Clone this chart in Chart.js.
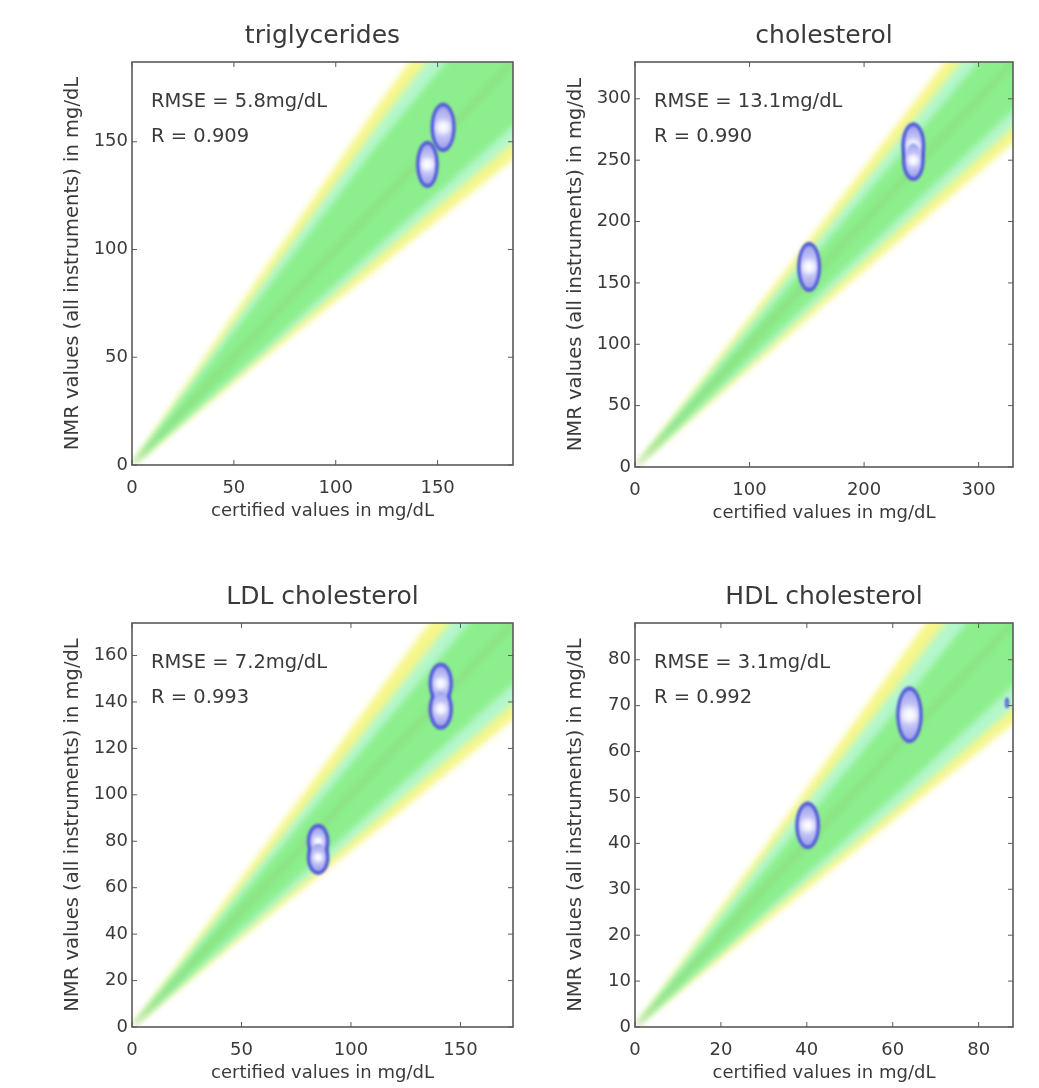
<!DOCTYPE html>
<html>
<head>
<meta charset="utf-8">
<script src="https://cdn.jsdelivr.net/npm/chart.js@4.4.1/dist/chart.umd.min.js"></script>
<style>
  body { margin: 0; background: #fff; }
  #wrap { position: relative; width: 1039px; height: 1088px; overflow: hidden; }
  canvas { position: absolute; }
</style>
</head>
<body>
<div id="wrap">
  <canvas id="c1"></canvas>
  <canvas id="c2"></canvas>
  <canvas id="c3"></canvas>
  <canvas id="c4"></canvas>
</div>
<script>
// ===== DATA =====
const xTitle = "certified values in mg/dL";
const yTitle = "NMR values (all instruments) in mg/dL";

// triglycerides
const tgMax = 187;
const tgTicks = [0, 50, 100, 150];
const tgBandX = [0, 60, 120, 190];
const tgYellowUp = [0, 84, 166, 257];
const tgMintUp = [0, 79, 157, 243];
const tgGreenUp = [0, 74, 148, 228];
const tgGreenLo = [0, 50, 101, 160];
const tgMintLo = [0, 48, 96, 152];
const tgYellowLo = [0, 46, 91, 144];
// [certified, nmr, spread x, spread y]
const tgPoints = [[145, 139.5, 5.6, 11], [152.7, 156.7, 6.2, 11.5]];
const tgRmse = "5.8", tgR = "0.909";

// cholesterol
const chMax = 330;
const chTicks = [0, 50, 100, 150, 200, 250, 300];
const chXTicks = [0, 100, 200, 300];
const chBandX = [0, 110, 220, 335];
const chYellowUp = [0, 134, 268, 409];
const chMintUp = [0, 128, 255, 389];
const chGreenUp = [0, 121, 242, 369];
const chGreenLo = [0, 97, 194, 295];
const chMintLo = [0, 92, 185, 281];
const chYellowLo = [0, 88, 176, 268];
const chPoints = [[152, 163, 10.5, 20.5], [243, 262, 10.5, 19], [243, 250, 10, 17]];
const chRmse = "13.1", chR = "0.990";

// LDL cholesterol
const ldlMax = 174;
const ldlYTicks = [0, 20, 40, 60, 80, 100, 120, 140, 160];
const ldlXTicks = [0, 50, 100, 150];
const ldlBandX = [0, 60, 120, 180];
const ldlYellowUp = [0, 77, 154, 230];
const ldlMintUp = [0, 72, 144, 216];
const ldlGreenUp = [0, 68, 136, 203];
const ldlGreenLo = [0, 51, 102, 153];
const ldlMintLo = [0, 48, 96, 144];
const ldlYellowLo = [0, 46, 91, 137];
const ldlPoints = [[85, 80, 5.2, 7.5], [85, 73, 5.2, 7.5], [141, 148, 5.6, 9], [141, 137, 5.6, 9]];
const ldlRmse = "7.2", ldlR = "0.993";

// HDL cholesterol
const hdlMax = 88;
const hdlYTicks = [0, 10, 20, 30, 40, 50, 60, 70, 80];
const hdlXTicks = [0, 20, 40, 60, 80];
const hdlBandX = [0, 30, 60, 90];
const hdlYellowUp = [0, 39, 78, 117];
const hdlMintUp = [0, 37, 73, 110];
const hdlGreenUp = [0, 34, 68, 103];
const hdlGreenLo = [0, 25, 50, 76];
const hdlMintLo = [0, 24, 47, 71];
const hdlYellowLo = [0, 22.5, 45, 67.5];
const hdlPoints = [[40.2, 43.9, 2.9, 5.2], [63.9, 68, 3.1, 6.2], [86.6, 70.6, 0.5, 1.2]];
const hdlRmse = "3.1", hdlR = "0.992";

// ===== STYLE =====
const FONT = "'DejaVu Sans', Verdana, sans-serif";
const TEXT = "#3a3a3a";
const YELLOW = "#f6f68a";
const MINT = "#b4f7cc";
const GREEN = "#8cee8c";

const panels = [
  { id: "c1", title: "triglycerides", max: tgMax, xTicks: tgTicks, yTicks: tgTicks, bandX: tgBandX,
    bands: [tgYellowUp, tgYellowLo, tgMintUp, tgMintLo, tgGreenUp, tgGreenLo], points: tgPoints, rmse: tgRmse, r: tgR,
    area: { left: 132, top: 62, right: 513, bottom: 465 } },
  { id: "c2", title: "cholesterol", max: chMax, xTicks: chXTicks, yTicks: chTicks, bandX: chBandX,
    bands: [chYellowUp, chYellowLo, chMintUp, chMintLo, chGreenUp, chGreenLo], points: chPoints, rmse: chRmse, r: chR,
    area: { left: 635, top: 62, right: 1013, bottom: 467 } },
  { id: "c3", title: "LDL cholesterol", max: ldlMax, xTicks: ldlXTicks, yTicks: ldlYTicks, bandX: ldlBandX,
    bands: [ldlYellowUp, ldlYellowLo, ldlMintUp, ldlMintLo, ldlGreenUp, ldlGreenLo], points: ldlPoints, rmse: ldlRmse, r: ldlR,
    area: { left: 132, top: 623, right: 513, bottom: 1027 } },
  { id: "c4", title: "HDL cholesterol", max: hdlMax, xTicks: hdlXTicks, yTicks: hdlYTicks, bandX: hdlBandX,
    bands: [hdlYellowUp, hdlYellowLo, hdlMintUp, hdlMintLo, hdlGreenUp, hdlGreenLo], points: hdlPoints, rmse: hdlRmse, r: hdlR,
    area: { left: 635, top: 623, right: 1013, bottom: 1027 } }
];

const AXIS_W = 102, TITLE_H = 52, XAXIS_H = 65, PAD_R = 17;

// ===== PLUGINS =====
// soft edges for the density bands
const softBands = {
  id: "softBands",
  beforeDatasetsDraw(chart) { chart.ctx.save(); chart.ctx.filter = "blur(3px)"; },
  afterDatasetsDraw(chart) { chart.ctx.restore(); }
};

// measurement clusters, drawn through the scales
const clusters = {
  id: "clusters",
  afterDatasetsDraw(chart, args, opts) {
    const { ctx, scales: { x, y }, chartArea: a } = chart;
    const shapes = opts.points.map(p => {
      const cx = x.getPixelForValue(p[0]), cy = y.getPixelForValue(p[1]);
      return { cx, cy, rx: Math.abs(x.getPixelForValue(p[0] + p[2]) - cx), ry: Math.abs(y.getPixelForValue(p[1] + p[3]) - cy) };
    });
    ctx.save();
    ctx.beginPath();
    ctx.rect(a.left, a.top, a.right - a.left, a.bottom - a.top);
    ctx.clip();
    ctx.filter = "blur(0.9px)";
    shapes.forEach(s => {
      ctx.beginPath();
      ctx.ellipse(s.cx, s.cy, s.rx, s.ry, 0, 0, Math.PI * 2);
      ctx.fillStyle = "#5860da";
      ctx.fill();
    });
    shapes.forEach(s => {
      const g = ctx.createRadialGradient(s.cx, s.cy, 0, s.cx, s.cy, Math.max(s.ry - 3.5, 1));
      g.addColorStop(0, "#ffffff");
      g.addColorStop(0.2, "#f2f2ff");
      g.addColorStop(0.45, "#c2c2f6");
      g.addColorStop(1, "#9a9eea");
      ctx.beginPath();
      ctx.ellipse(s.cx, s.cy, Math.max(s.rx - 3.5, 0.5), Math.max(s.ry - 4, 0.5), 0, 0, Math.PI * 2);
      ctx.fillStyle = g;
      ctx.fill();
    });
    ctx.restore();
  }
};

// axes box, inward ticks, statistics text
const frame = {
  id: "frame",
  afterDraw(chart, args, opts) {
    const { ctx, chartArea: a, scales: { x, y } } = chart;
    ctx.save();
    ctx.strokeStyle = "#5a5a5a";
    ctx.lineWidth = 1.6;
    ctx.strokeRect(a.left, a.top, a.right - a.left, a.bottom - a.top);
    ctx.lineWidth = 1;
    ctx.beginPath();
    x.ticks.forEach(t => {
      const px = x.getPixelForValue(t.value);
      ctx.moveTo(px, a.bottom); ctx.lineTo(px, a.bottom - 5);
      ctx.moveTo(px, a.top); ctx.lineTo(px, a.top + 5);
    });
    y.ticks.forEach(t => {
      const py = y.getPixelForValue(t.value);
      ctx.moveTo(a.left, py); ctx.lineTo(a.left + 5, py);
      ctx.moveTo(a.right, py); ctx.lineTo(a.right - 5, py);
    });
    ctx.stroke();

    ctx.fillStyle = TEXT;
    ctx.font = "19.5px " + FONT;
    ctx.textBaseline = "middle";
    ctx.textAlign = "left";
    ctx.fillText("RMSE = " + opts.rmse + "mg/dL", a.left + 19, a.top + 40);
    ctx.fillText("R = " + opts.r, a.left + 19, a.top + 75);
    ctx.restore();
  }
};

// ===== BUILD =====
function line(xs, ys) {
  return xs.map((v, i) => ({ x: v, y: ys[i] }));
}

function bandPair(xs, up, lo, color, order) {
  return [
    { data: line(xs, up), fill: "+1", backgroundColor: color, borderWidth: 0, pointRadius: 0, order },
    { data: line(xs, lo), fill: false, borderWidth: 0, pointRadius: 0, order }
  ];
}

panels.forEach(p => {
  const cv = document.getElementById(p.id);
  const w = p.area.right - p.area.left + AXIS_W + PAD_R;
  const h = p.area.bottom - p.area.top + TITLE_H + XAXIS_H;
  cv.width = w; cv.height = h;
  cv.style.left = (p.area.left - AXIS_W) + "px";
  cv.style.top = (p.area.top - TITLE_H) + "px";

  const [yu, yl, mu, ml, gu, gl] = p.bands;
  const datasets = [
    ...bandPair(p.bandX, yu, yl, YELLOW, 4),
    ...bandPair(p.bandX, mu, ml, MINT, 3),
    ...bandPair(p.bandX, gu, gl, GREEN, 2),
    { data: line([0, p.max], [0, p.max]), borderColor: "rgba(150,130,70,0.5)", borderWidth: 1.2, pointRadius: 0, fill: false, order: 1 }
  ];

  new Chart(cv, {
    type: "line",
    data: { datasets },
    options: {
      responsive: false,
      animation: false,
      devicePixelRatio: 1,
      layout: { padding: { right: PAD_R } },
      elements: { line: { tension: 0 } },
      scales: {
        x: {
          type: "linear", min: 0, max: p.max,
          afterBuildTicks: s => { s.ticks = p.xTicks.map(v => ({ value: v })); },
          afterFit: s => { s.height = XAXIS_H; },
          grid: { display: false, drawTicks: false },
          border: { display: false },
          ticks: { font: { family: FONT, size: 18 }, color: TEXT, padding: 13, maxRotation: 0 },
          title: { display: true, text: xTitle, font: { family: FONT, size: 18 }, color: TEXT, padding: { top: 0, bottom: 8 } }
        },
        y: {
          type: "linear", min: 0, max: p.max,
          afterBuildTicks: s => { s.ticks = p.yTicks.map(v => ({ value: v })); },
          afterFit: s => { s.width = AXIS_W; },
          grid: { display: false, drawTicks: false },
          border: { display: false },
          ticks: { font: { family: FONT, size: 18 }, color: TEXT, padding: 4 },
          title: { display: true, text: yTitle, font: { family: FONT, size: 19.5 }, color: TEXT, padding: { top: 31, bottom: 0 } }
        }
      },
      plugins: {
        legend: { display: false },
        tooltip: { enabled: false },
        title: {
          display: true, text: p.title, fullSize: false, color: TEXT,
          font: { family: FONT, size: 25, weight: "normal" }, padding: { top: 11, bottom: 11 }
        },
        clusters: { points: p.points },
        frame: { rmse: p.rmse, r: p.r }
      }
    },
    plugins: [softBands, clusters, frame]
  });
});
</script>
</body>
</html>
